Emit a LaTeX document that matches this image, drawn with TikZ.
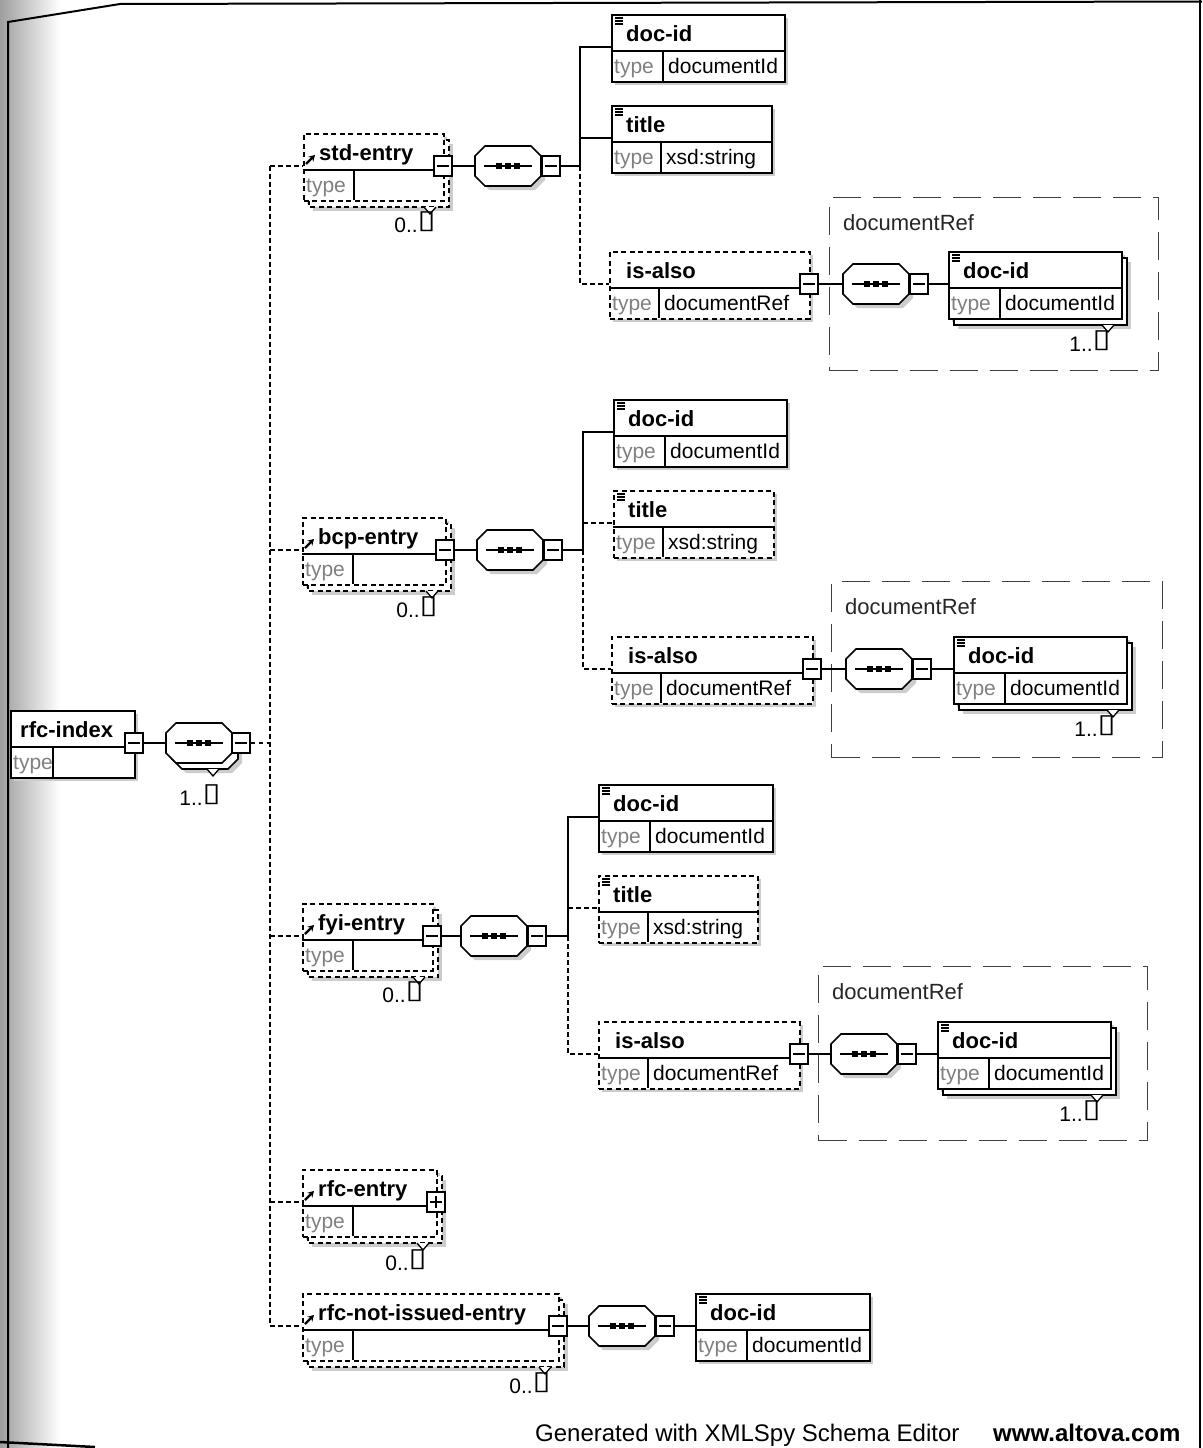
\documentclass[tikz,border=0pt]{standalone}
\usepackage{fontspec}
\setmainfont{Liberation Sans}
\newfontfamily\symfont{DejaVu Sans}
\usetikzlibrary{arrows.meta}
\pgfdeclarelayer{background}
\pgfsetlayers{background,main}

\tikzset{
  elem/.style={draw, line width=1.7pt, fill=white, inner sep=0pt},
  backbox/.style={draw, line width=1.7pt, fill=white},
  dashline/.style={dash pattern=on 5pt off 3.5pt},
  shadowc/.style={fill=black!20},
  div/.style={line width=1.1pt, solid},
  hdr/.style={anchor=base west, inner sep=0pt, font=\bfseries\fontsize{22pt}{24pt}\selectfont},
  tlab/.style={anchor=base west, inner sep=0pt, text=black!50, font=\fontsize{21pt}{23pt}\selectfont},
  tval/.style={anchor=base west, inner sep=0pt, font=\fontsize{21pt}{23pt}\selectfont},
  conn/.style={line width=1.5pt},
  dconn/.style={line width=1.5pt, dash pattern=on 4.5pt off 3.5pt},
  seqline/.style={draw, line width=1.7pt, fill=white},
  seqanchor/.style={minimum width=66pt, minimum height=40pt, inner sep=0pt},
  pm/.style={draw, line width=1.6pt, fill=white, minimum width=18pt, minimum height=20pt, inner sep=0pt},
  grp/.style={draw=black!75, line width=1.4pt, dash pattern=on 28pt off 12pt, inner sep=0pt},
  grplab/.style={anchor=base west, inner sep=0pt, text=black!85, font=\fontsize{22pt}{24pt}\selectfont},
  multlab/.style={anchor=base, inner sep=0pt, font=\fontsize{21pt}{23pt}\selectfont},
}

% element box: name, x, y, width, border style, label offset, label, type column, type value
\newcommand\elbox[9]{%
  \begin{pgfonlayer}{background}
    \fill[shadowc] (#2+4,#3+4) rectangle (#2+#4+4,#3+71);
  \end{pgfonlayer}
  \node[elem,#5,minimum width=#4pt,minimum height=67pt,anchor=north west] (#1) at (#2,#3) {};
  \draw[div] (#2,#3+37) -- (#2+#4,#3+37);
  \draw[div] (#2+#8,#3+37) -- (#2+#8,#3+67);
  \node[hdr] (#1-lab) at (#2+#6,#3+27) {#7};
  \node[tlab] (#1-tl) at (#2+3,#3+59) {type};
  \node[tval] (#1-tv) at (#2+#8+5,#3+59) {#9};
  \coordinate (#1-in) at (#2,#3+33);
}

% stacked copy behind a repeatable element: x, y, width, border style
\newcommand\elstack[4]{%
  \begin{pgfonlayer}{background}
    \fill[shadowc] (#1+10,#2+11) rectangle (#1+#3+10,#2+78);
  \end{pgfonlayer}
  \draw[backbox,#4] (#1+6,#2+7) rectangle (#1+#3+6,#2+74);
  \filldraw[fill=white,line width=1.3pt,solid] (#1+#3-19,#2+74) -- (#1+#3-13,#2+81) -- (#1+#3-7,#2+74);
}

% octagon outline around a centre
\newcommand\octpath[2]{(#1-23,#2-20) -- (#1+23,#2-20) -- (#1+33,#2-10) -- (#1+33,#2+10) -- (#1+23,#2+20) -- (#1-23,#2+20) -- (#1-33,#2+10) -- (#1-33,#2-10) -- cycle}

% sequence compositor: name, centre x, centre y, stacked (1) or single (0)
\newcommand\seqbox[4]{%
  \ifnum#4=1
    \begin{pgfonlayer}{background}
      \fill[shadowc] \octpath{#2+10}{#3+10};
    \end{pgfonlayer}
    \path[seqline] \octpath{#2+6}{#3+6};
    \filldraw[fill=white,line width=1.3pt] (#2+8,#3+26) -- (#2+14,#3+33) -- (#2+20,#3+26);
  \else
    \begin{pgfonlayer}{background}
      \fill[shadowc] \octpath{#2+4}{#3+4};
    \end{pgfonlayer}
  \fi
  \path[seqline] \octpath{#2}{#3};
  \node[seqanchor] (#1) at (#2,#3) {};
  \draw[line width=1.3pt] (#2-24,#3) -- (#2+24,#3);
  \foreach \dd in {-9,0,9} \fill (#2+\dd-3,#3-3) rectangle (#2+\dd+3,#3+3);
}

\newcommand\minusbox[3]{%
  \node[pm] (#1) at (#2,#3) {};
  \draw[line width=1.3pt] (#2-6,#3) -- (#2+6,#3);
}
\newcommand\plusbox[3]{%
  \node[pm] (#1) at (#2,#3) {};
  \draw[line width=1.3pt] (#2-6,#3) -- (#2+6,#3) (#2,#3-6) -- (#2,#3+6);
}

% global reference arrow and element icon, given the box corner
\newcommand\refarrow[2]{\draw[line width=2.2pt,-{Stealth[length=6pt,width=7pt]}] (#1+3,#2+31) -- (#1+12,#2+22);}
\newcommand\elicon[2]{\foreach \kk in {0,3,6} \draw[line width=1.1pt] (#1+4,#2+4+\kk) -- (#1+12,#2+4+\kk);}

% occurrence label: name, centre x, baseline y, lower bound
\newcommand\infbox{\raisebox{\depth}{\resizebox*{18pt}{20pt}{\symfont ▯}}}
\newcommand\mult[4]{\node[multlab] (#1) at (#2,#3) {#4..\infbox};}

\begin{document}
\begin{tikzpicture}[x=1pt,y=-1pt]
\useasboundingbox (0,0) rectangle (1202,1448);

% page edge
\begin{pgfonlayer}{background}
  \shade[left color=black!38, right color=white] (0,0) rectangle (60,1448);
\end{pgfonlayer}
\draw[line width=2pt] (8,1448) -- (8,22) -- (120,4) -- (1202,1.5);
\draw[line width=2pt] (1200,0) -- (1200,1448);
\draw[line width=2.5pt] (0,1442) -- (95,1447);

% ---------------- rfc-index ----------------
\elbox{idx}{10}{710}{124}{solid}{10}{rfc-index}{43}{}
\minusbox{idx-m1}{134}{743}
\seqbox{idx-seq}{199}{743}{1}
\minusbox{idx-m2}{241}{743}
\mult{idx-mult}{200}{805}{1}
\coordinate (idx-j) at (270,743);

% ---------------- std-entry ----------------
\elstack{303}{133}{140}{dashline}
\elbox{std}{303}{133}{140}{dashline}{16}{std-entry}{51}{}
\refarrow{303}{133}
\minusbox{std-m1}{443}{166}
\mult{std-mult}{415}{232}{0}
\seqbox{std-seq}{508}{166}{0}
\minusbox{std-m2}{551}{166}
\coordinate (std-j) at (580,166);
\elbox{std-docid}{611}{14}{173}{solid}{15}{doc-id}{52}{documentId}
\elicon{611}{14}
\elbox{std-title}{611}{105}{160}{solid}{15}{title}{50}{xsd:string}
\elicon{611}{105}
\elbox{std-isalso}{609}{251}{200}{dashline}{17}{is-also}{50}{documentRef}
\minusbox{std-m3}{809}{284}
\node[grp,minimum width=329pt,minimum height=173pt,anchor=north west] (std-grp) at (829,197) {};
\node[grplab] (std-grp-lab) at (843,230) {documentRef};
\seqbox{std-rseq}{876}{284}{0}
\minusbox{std-m4}{919}{284}
\elstack{948}{251}{173}{solid}
\elbox{std-rdocid}{948}{251}{173}{solid}{15}{doc-id}{52}{documentId}
\elicon{948}{251}
\mult{std-rmult}{1090}{351}{1}

\draw[conn] (std-m1.east) -- (std-seq.west);
\draw[conn] (std-m2.east) -- (std-j) |- (std-docid-in);
\draw[conn] (std-title-in -| std-j) -- (std-title-in);
\draw[dconn] (std-j) |- (std-isalso-in);
\draw[conn] (std-m3.east) -- (std-rseq.west);
\draw[conn] (std-m4.east) -- (std-rdocid-in);

% ---------------- bcp-entry ----------------
\elstack{302}{517}{143}{dashline}
\elbox{bcp}{302}{517}{143}{dashline}{16}{bcp-entry}{51}{}
\refarrow{302}{517}
\minusbox{bcp-m1}{445}{550}
\mult{bcp-mult}{417}{617}{0}
\seqbox{bcp-seq}{510}{550}{0}
\minusbox{bcp-m2}{553}{550}
\coordinate (bcp-j) at (583,550);
\elbox{bcp-docid}{613}{399}{173}{solid}{15}{doc-id}{52}{documentId}
\elicon{613}{399}
\elbox{bcp-title}{613}{490}{160}{dashline}{15}{title}{50}{xsd:string}
\elicon{613}{490}
\elbox{bcp-isalso}{611}{636}{201}{dashline}{17}{is-also}{50}{documentRef}
\minusbox{bcp-m3}{812}{669}
\node[grp,minimum width=331pt,minimum height=176pt,anchor=north west] (bcp-grp) at (831,581) {};
\node[grplab] (bcp-grp-lab) at (845,614) {documentRef};
\seqbox{bcp-rseq}{879}{669}{0}
\minusbox{bcp-m4}{922}{669}
\elstack{953}{636}{173}{solid}
\elbox{bcp-rdocid}{953}{636}{173}{solid}{15}{doc-id}{52}{documentId}
\elicon{953}{636}
\mult{bcp-rmult}{1095}{736}{1}

\draw[conn] (bcp-m1.east) -- (bcp-seq.west);
\draw[conn] (bcp-m2.east) -- (bcp-j) |- (bcp-docid-in);
\draw[dconn] (bcp-title-in -| bcp-j) -- (bcp-title-in);
\draw[dconn] (bcp-j) |- (bcp-isalso-in);
\draw[conn] (bcp-m3.east) -- (bcp-rseq.west);
\draw[conn] (bcp-m4.east) -- (bcp-rdocid-in);

% ---------------- fyi-entry ----------------
\elstack{302}{903}{130}{dashline}
\elbox{fyi}{302}{903}{130}{dashline}{16}{fyi-entry}{51}{}
\refarrow{302}{903}
\minusbox{fyi-m1}{432}{936}
\mult{fyi-mult}{403}{1002}{0}
\seqbox{fyi-seq}{494}{936}{0}
\minusbox{fyi-m2}{537}{936}
\coordinate (fyi-j) at (568,936);
\elbox{fyi-docid}{598}{784}{174}{solid}{15}{doc-id}{52}{documentId}
\elicon{598}{784}
\elbox{fyi-title}{598}{875}{159}{dashline}{15}{title}{50}{xsd:string}
\elicon{598}{875}
\elbox{fyi-isalso}{598}{1021}{201}{dashline}{17}{is-also}{50}{documentRef}
\minusbox{fyi-m3}{799}{1054}
\node[grp,minimum width=329pt,minimum height=174pt,anchor=north west] (fyi-grp) at (818,966) {};
\node[grplab] (fyi-grp-lab) at (832,999) {documentRef};
\seqbox{fyi-rseq}{864}{1054}{0}
\minusbox{fyi-m4}{907}{1054}
\elstack{937}{1021}{173}{solid}
\elbox{fyi-rdocid}{937}{1021}{173}{solid}{15}{doc-id}{52}{documentId}
\elicon{937}{1021}
\mult{fyi-rmult}{1080}{1121}{1}

\draw[conn] (fyi-m1.east) -- (fyi-seq.west);
\draw[conn] (fyi-m2.east) -- (fyi-j) |- (fyi-docid-in);
\draw[dconn] (fyi-title-in -| fyi-j) -- (fyi-title-in);
\draw[dconn] (fyi-j) |- (fyi-isalso-in);
\draw[conn] (fyi-m3.east) -- (fyi-rseq.west);
\draw[conn] (fyi-m4.east) -- (fyi-rdocid-in);

% ---------------- rfc-entry ----------------
\elstack{302}{1169}{134}{dashline}
\elbox{rfc}{302}{1169}{134}{dashline}{16}{rfc-entry}{51}{}
\refarrow{302}{1169}
\plusbox{rfc-p}{436}{1202}
\mult{rfc-mult}{406}{1270}{0}

% ---------------- rfc-not-issued-entry ----------------
\elstack{302}{1293}{256}{dashline}
\elbox{rni}{302}{1293}{256}{dashline}{16}{rfc-not-issued-entry}{51}{}
\refarrow{302}{1293}
\minusbox{rni-m1}{558}{1326}
\mult{rni-mult}{530}{1393}{0}
\seqbox{rni-seq}{622}{1326}{0}
\minusbox{rni-m2}{665}{1326}
\elbox{rni-docid}{695}{1293}{174}{solid}{15}{doc-id}{52}{documentId}
\elicon{695}{1293}

\draw[conn] (rni-m1.east) -- (rni-seq.west);
\draw[conn] (rni-m2.east) -- (rni-docid-in);

% ---------------- top-level choice of entries ----------------
\draw[conn] (idx-m1.east) -- (idx-seq.west);
\draw[dconn] (idx-m2.east) -- (idx-j);
\draw[dconn] (std-in -| idx-j) -- (rni-in -| idx-j);
\foreach \en in {std,bcp,fyi,rfc,rni}
  \draw[dconn] (\en-in -| idx-j) -- (\en-in);

% footer
\node[anchor=base west, inner sep=0pt, font=\fontsize{24pt}{26pt}\selectfont] (gen) at (535,1441) {Generated with XMLSpy Schema Editor};
\node[anchor=base west, inner sep=0pt, font=\bfseries\fontsize{24pt}{26pt}\selectfont] (url) at (993,1441) {www.altova.com};
\end{tikzpicture}
\end{document}
